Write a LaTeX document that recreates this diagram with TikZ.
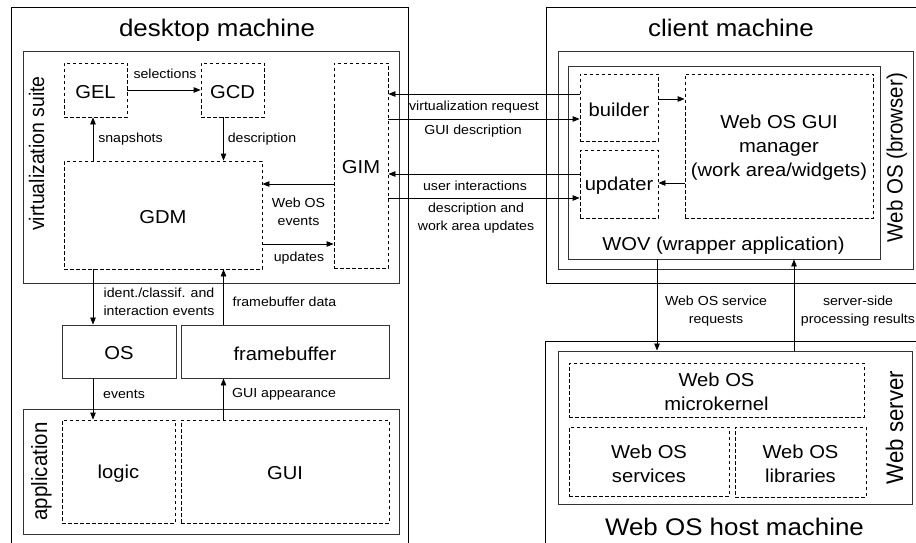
\documentclass[tikz,border=0pt]{standalone}
\usepackage{fontspec}
\setmainfont[FakeStretch=1.08]{Liberation Sans}
\newfontfamily\rotfont[FakeStretch=0.926]{Liberation Sans}
\usetikzlibrary{arrows.meta,fit}
\begin{document}
\begin{tikzpicture}[x=1pt,y=-1pt,
  outer/.style={draw=black,line width=0.9pt},
  sbox/.style={draw=black!80,line width=0.9pt,inner sep=0pt},
  dbox/.style={draw=black,line width=0.8pt,dash pattern=on 3.5pt off 2.5pt,inner sep=0pt},
  arr/.style={line width=0.8pt,-{Triangle[length=7pt,width=5.5pt]}},
  medtxt/.style={font=\fontsize{18.7}{24}\selectfont,align=center,inner sep=0pt,yshift=-2pt},
  smltxt/.style={font=\fontsize{13.1}{17.5}\selectfont,align=center,inner sep=0pt},
  ttltxt/.style={font=\fontsize{24}{28}\selectfont,inner sep=0pt},
  rottxt/.style={font=\rotfont\fontsize{22.1}{26}\selectfont,rotate=90,inner sep=0pt},
]
\useasboundingbox (0,0) rectangle (916,543);
\fill[white] (0,0) rectangle (916,543);

% ---------- desktop machine ----------
\draw[outer] (11,546) |- (408,7) -- (408,546);
\node[ttltxt,anchor=base] (tdesk) at (217,37) {desktop machine};

\node[sbox,fit={(23,51)(399,283)}] (vs) {};
\node[rottxt,font=\rotfont\fontsize{21}{26}\selectfont] (vstxt) at (36.5,153.5) {virtualization suite};
\node[dbox,fit={(64,63)(127,117)}] (GEL) {};
\node[medtxt] (GELt) at (GEL) {GEL};
\node[dbox,fit={(201,63)(264,117)}] (GCD) {};
\node[medtxt] (GCDt) at (GCD) {GCD};
\node[dbox,fit={(334,63)(388,268)}] (GIM) {};
\node[medtxt] (GIMt) at (GIM) {GIM};
\node[dbox,fit={(64,161)(262,269)}] (GDM) {};
\node[medtxt] (GDMt) at (GDM) {GDM};

\node[sbox,fit={(62,325)(176,378)}] (OS) {};
\node[medtxt] (OSt) at (OS) {OS};
\node[sbox,fit={(181,325)(389,378)}] (fb) {};
\node[medtxt] (fbt) at (fb) {framebuffer};

\node[sbox,fit={(23,409)(399,534)}] (app) {};
\node[rottxt] (apptxt) at (41.5,471.5) {application};
\node[dbox,fit={(62,420)(175,523)}] (logic) {};
\node[medtxt] (logict) at (logic) {logic};
\node[dbox,fit={(181,420)(389,523)}] (GUI) {};
\node[medtxt] (GUIt) at (GUI) {GUI};

% ---------- client machine ----------
\draw[outer] (918,7) -- (546,7) -- (546,283) -- (918,283);
\node[ttltxt,anchor=base] (tclient) at (731,37) {client machine};
\node[sbox,fit={(558,51)(913,269)}] (wos) {};
\node[rottxt] (wostxt) at (897,157.5) {Web OS (browser)};
\node[sbox,fit={(568,66)(880,259)}] (wov) {};
\node[medtxt,yshift=2pt] (wovtxt) at (723.5,245.5) {WOV (wrapper application)};
\node[dbox,fit={(580,74)(658,141)}] (builder) {};
\node[medtxt] (buildert) at (builder) {builder};
\node[dbox,fit={(580,150)(658,218)}] (updater) {};
\node[medtxt] (updatert) at (updater) {updater};
\node[dbox,fit={(685,74)(873,218)}] (mgr) {};
\node[medtxt] (mgrt) at (mgr) {Web OS GUI\\manager\\(work area/widgets)};

% ---------- Web OS host machine ----------
\draw[outer] (918,341) -- (545,341) -- (545,546);
\node[ttltxt,anchor=base] (thost) at (734.5,535) {Web OS host machine};
\node[sbox,fit={(558,351)(912,504)}] (ws) {};
\node[rottxt,font=\rotfont\fontsize{24}{28}\selectfont] (wstxt) at (894.5,427.5) {Web server};
\node[dbox,fit={(569,363)(864,417)}] (mk) {};
\node[medtxt] (mkt) at (mk) {Web OS\\microkernel};
\node[dbox,fit={(569,427)(729,496)}] (svc) {};
\node[medtxt] (svct) at (svc) {Web OS\\services};
\node[dbox,fit={(735,427)(866,497)}] (lib) {};
\node[medtxt] (libt) at (lib) {Web OS\\libraries};

% ---------- helper coordinates ----------
\coordinate (x93) at (93,0);
\coordinate (x223) at (223.5,0);
\coordinate (x657) at (657,0);
\coordinate (x794) at (794,0);
\coordinate (y94) at (0,94);
\coordinate (y99) at (0,99);
\coordinate (y119) at (0,119);
\coordinate (y174) at (0,174);
\coordinate (y183) at (0,183);
\coordinate (y184) at (0,184);
\coordinate (y198) at (0,198);
\coordinate (y244) at (0,244);

% ---------- connectors ----------
\draw[arr] (GEL) -- (GCD);
\draw[arr] (GDM.north -| x93) -- (GEL.south -| x93);
\draw[arr] (GCD.south -| x223) -- (GDM.north -| x223);
\draw[arr] (GIM.west |- y184) -- (GDM.east |- y184);
\draw[arr] (GDM.east |- y244) -- (GIM.west |- y244);
\draw[arr] (builder.west |- y94) -- (GIM.east |- y94);
\draw[arr] (GIM.east |- y119) -- (builder.west |- y119);
\draw[arr] (updater.west |- y174) -- (GIM.east |- y174);
\draw[arr] (GIM.east |- y198) -- (updater.west |- y198);
\draw[arr] (builder.east |- y99) -- (mgr.west |- y99);
\draw[arr] (mgr.west |- y183) -- (updater.east |- y183);
\draw[arr] (GDM.south -| x93) -- (OS.north -| x93);
\draw[arr] (fb.north -| x223) -- (GDM.south -| x223);
\draw[arr] (OS.south -| x93) -- (logic.north -| x93);
\draw[arr] (GUI.north -| x223) -- (fb.south -| x223);
\draw[arr] (wov.south -| x657) -- (ws.north -| x657);
\draw[arr] (ws.north -| x794) -- (wov.south -| x794);

% ---------- connector labels ----------
\node[smltxt] (lsel) at (165,74) {selections};
\node[smltxt] (lsnap) at (130.5,139) {snapshots};
\node[smltxt] (ldesc) at (262,139) {description};
\node[smltxt] (lwev) at (298.5,212) {Web OS\\events};
\node[smltxt] (lupd) at (299,258) {updates};
\node[smltxt] (lvreq) at (474,107) {virtualization request};
\node[smltxt] (lgui) at (473,131) {GUI description};
\node[smltxt] (luser) at (475,186) {user interactions};
\node[smltxt] (lwa) at (476,218) {description and\\work area updates};
\node[smltxt] (lident) at (159,302) {ident./classif. and\\interaction events};
\node[smltxt] (lfbd) at (284.5,302) {framebuffer data};
\node[smltxt] (lev) at (124,394) {events};
\node[smltxt] (lgapp) at (284,394) {GUI appearance};
\node[smltxt] (lsreq) at (716,311) {Web OS service\\requests};
\node[smltxt] (lres) at (858,311) {server-side\\processing results};
\end{tikzpicture}
\end{document}
